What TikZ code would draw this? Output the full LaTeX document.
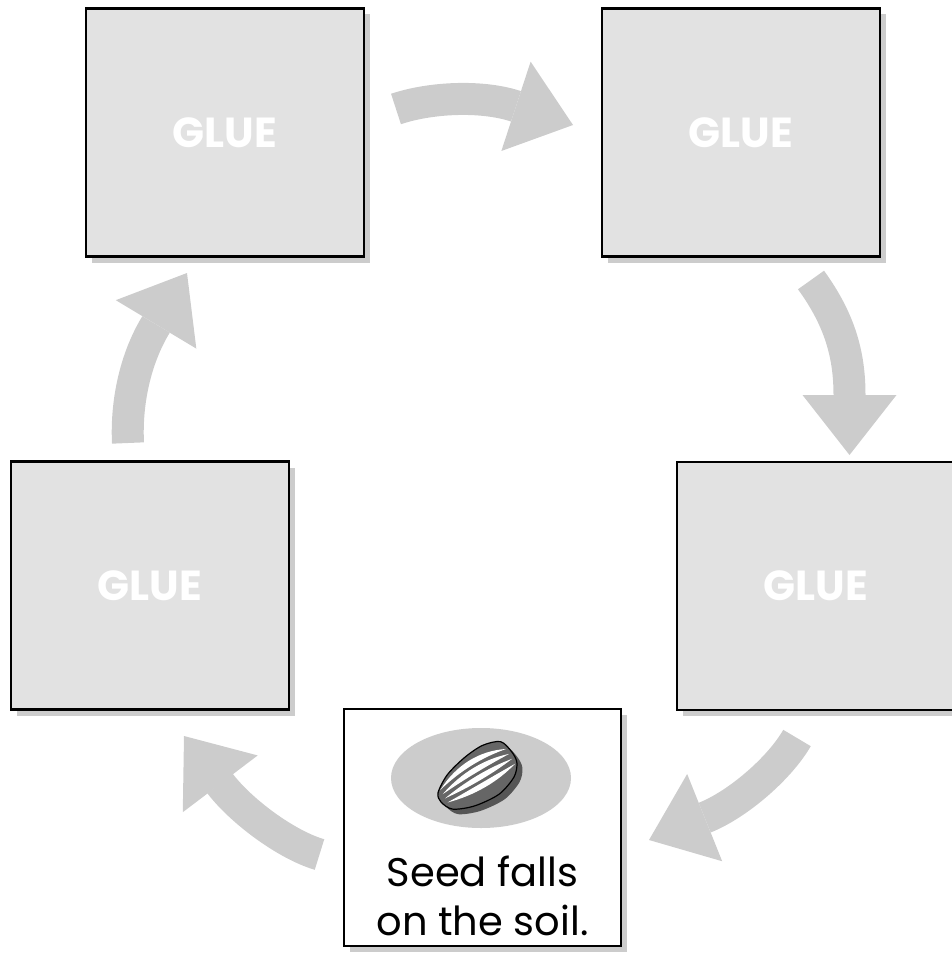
\documentclass[tikz,border=0pt]{standalone}
\usepackage{fontspec}
\setmainfont{Poppins}
\usetikzlibrary{arrows.meta,shadows}
\definecolor{boxgray}{HTML}{E2E2E2}
\definecolor{shadegray}{HTML}{CCCCCC}
\definecolor{seeddark}{HTML}{666666}
\definecolor{seedshade}{HTML}{555555}
\tikzset{
  gluebox/.style={draw=black, line width=2.8pt, fill=boxgray,
    minimum width=278pt, minimum height=248pt,
    drop shadow={shadow xshift=6pt, shadow yshift=-6pt, fill=shadegray, opacity=1},
    text=white, font=\bfseries\fontsize{42}{46}\selectfont},
  seedbox/.style={draw=black, line width=2.8pt, fill=white,
    minimum width=277pt, minimum height=237pt,
    drop shadow={shadow xshift=6pt, shadow yshift=-6pt, fill=shadegray, opacity=1}},
  labeltext/.style={align=center, font=\fontsize{40}{49}\selectfont},
  cyclearrow/.style={draw=shadegray, line width=32pt,
    -{Triangle[length=60pt, width=94pt, line width=0pt]}}
}
\begin{document}
\begin{tikzpicture}[x=1pt, y=-1pt]
 \useasboundingbox (0,0) rectangle (952,958);
 \clip (0,0) rectangle (952,958);
 % the five stages
 \node[gluebox] (glueTL) at (225,132.5) {GLUE};
 \node[gluebox] (glueTR) at (741,132.5) {GLUE};
 \node[gluebox] (glueR)  at (816,586)   {GLUE};
 \node[gluebox] (glueL)  at (150,585.5) {GLUE};
 \node[seedbox] (fall)   at (482.5,827.5) {};
 \node[labeltext] (falltext) at (482.5,896) {Seed falls\\on the soil.};
 % seed on the soil
 \fill[shadegray] (481,778) ellipse [x radius=90, y radius=50];
 \begin{scope}[shift={(477,778)}, rotate=30.7, xscale=1.08, yscale=1.2]
  \fill[seedshade, shift={(2,6)}] plot[smooth cycle] coordinates
   {(40,-4) (36,-16) (20,-21) (0,-20) (-22,-15) (-38,-6) (-40,2) (-34,12) (-15,19) (10,21) (30,15) (39,6)};
  \filldraw[fill=seeddark, draw=black, line width=1.2pt] plot[smooth cycle] coordinates
   {(40,-4) (36,-16) (20,-21) (0,-20) (-22,-15) (-38,-6) (-40,2) (-34,12) (-15,19) (10,21) (30,15) (39,6)};
  \foreach \o in {-14,-6,2,10}
   \fill[white] (-35,\o*0.5) .. controls (-10,\o-4.5) and (15,\o-4.5) .. (37,\o*0.6)
                .. controls (15,\o+1.5) and (-10,\o+1.5) .. cycle;
 \end{scope}
 % arrows of the cycle
 \coordinate (a1s) at (396,109);   \coordinate (a1t) at (573,125);
 \coordinate (a2s) at (811,280);   \coordinate (a2t) at (849.5,455);
 \coordinate (a3s) at (797,738);   \coordinate (a3t) at (649,840);
 \coordinate (a4s) at (319.5,854.5); \coordinate (a4t) at (184,736);
 \coordinate (a5s) at (128,443);   \coordinate (a5t) at (187,273);
 \draw[cyclearrow] (a1s) .. controls (430,97.5) and (481,95) .. (515,106) -- (a1t);
 \draw[cyclearrow] (a2s) .. controls (840,320) and (849.5,355) .. (849.5,395) -- (a2t);
 \draw[cyclearrow] (a3s) .. controls (779.5,768.5) and (737.5,804.5) .. (705,817.5) -- (a3t);
 \draw[cyclearrow] (a4s) .. controls (286,844.7) and (241,811) .. (220,783.5) -- (a4t);
 \draw[cyclearrow] (a5s) .. controls (126,403) and (135,359) .. (156,324.5) -- (a5t);
\end{tikzpicture}
\end{document}
